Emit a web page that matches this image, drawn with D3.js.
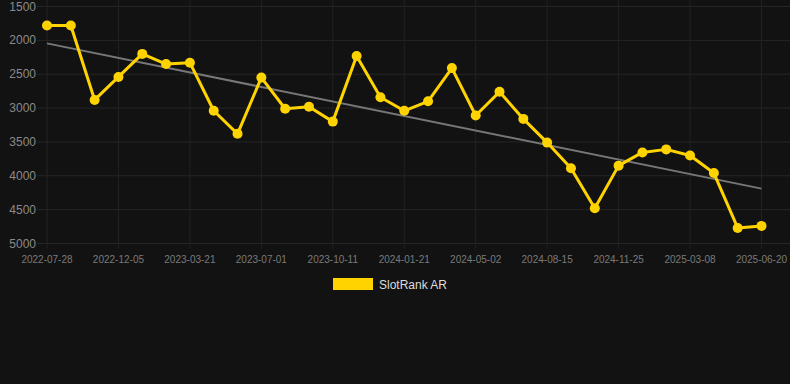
<!DOCTYPE html>
<html>
<head>
<meta charset="utf-8">
<script src="https://cdn.jsdelivr.net/npm/d3@7"></script>
<style>
  html, body { margin: 0; padding: 0; background: #121212; }
  svg { display: block; font-family: Arial, "Liberation Sans", sans-serif; }
</style>
</head>
<body>
<div class="main"></div>
<script>
// SlotRank AR, one point per period (labels shown on every 3rd point)
const tickLabels = ["2022-07-28", "2022-12-05", "2023-03-21", "2023-07-01", "2023-10-11",
  "2024-01-21", "2024-05-02", "2024-08-15", "2024-11-25", "2025-03-08", "2025-06-20"];
const rankValues = [1780, 1780, 2880, 2540, 2200, 2350, 2330, 3040, 3380, 2550,
  3010, 2980, 3200, 2230, 2840, 3040, 2900, 2410, 3110, 2760,
  3160, 3510, 3890, 4480, 3850, 3655, 3610, 3700, 3960, 4770, 4740];
const yTicks = [1500, 2000, 2500, 3000, 3500, 4000, 4500, 5000];
const seriesName = "SlotRank AR";

let width = 790,
    height = 384;

let svg = d3.select("div.main").append("svg")
  .attr("width", width)
  .attr("height", height);

svg.append("rect")
  .attr("width", width)
  .attr("height", height)
  .attr("fill", "#121212");

let idx = d3.range(rankValues.length);

let x = d3.scalePoint()
  .domain(idx)
  .range([47, 761.5]);

// rank axis is reversed: best rank on top
let y = d3.scaleLinear()
  .domain([1500, 5000])
  .range([6.5, 243.5]);

let left = 37, right = width;

// horizontal grid + y labels
svg.append("g")
  .selectAll("line")
  .data(yTicks)
  .enter().append("line")
    .attr("x1", left)
    .attr("x2", right)
    .attr("y1", d => y(d))
    .attr("y2", d => y(d))
    .attr("stroke", "#262626")
    .attr("stroke-width", 1);

svg.append("g")
  .selectAll("text")
  .data(yTicks)
  .enter().append("text")
    .attr("x", left - 1)
    .attr("y", d => y(d) + 4)
    .attr("text-anchor", "end")
    .attr("fill", "#8a8a8a")
    .attr("font-size", 12)
    .text(d => d);

// vertical grid on labelled points
let tickIdx = tickLabels.map((t, i) => i * 3);

svg.append("g")
  .selectAll("line")
  .data(tickIdx)
  .enter().append("line")
    .attr("x1", d => x(d))
    .attr("x2", d => x(d))
    .attr("y1", 0)
    .attr("y2", y(5000) + 5)
    .attr("stroke", "#222222")
    .attr("stroke-width", 1);

svg.append("g")
  .selectAll("text")
  .data(tickIdx)
  .enter().append("text")
    .attr("x", d => x(d))
    .attr("y", 263)
    .attr("text-anchor", "middle")
    .attr("fill", "#7a7a7a")
    .attr("font-size", 10)
    .text((d, i) => tickLabels[i]);

// least squares trend line
let mx = d3.mean(idx), my = d3.mean(rankValues);
let slope = d3.sum(idx, i => (i - mx) * (rankValues[i] - my)) / d3.sum(idx, i => (i - mx) * (i - mx));
let icpt = my - slope * mx;
let first = idx[0], last = idx[idx.length - 1];

svg.append("line")
  .attr("x1", x(first))
  .attr("y1", y(icpt + slope * first))
  .attr("x2", x(last))
  .attr("y2", y(icpt + slope * last))
  .attr("stroke", "#777777")
  .attr("stroke-width", 2);

// series
let line = d3.line()
  .x((d, i) => x(i))
  .y(d => y(d));

svg.append("path")
  .datum(rankValues)
  .attr("d", line)
  .attr("fill", "none")
  .attr("stroke", "#FFD300")
  .attr("stroke-width", 3)
  .attr("stroke-linejoin", "round");

svg.append("g")
  .selectAll("circle")
  .data(rankValues)
  .enter().append("circle")
    .attr("cx", (d, i) => x(i))
    .attr("cy", d => y(d))
    .attr("r", 5)
    .attr("fill", "#FFD300");

// legend
svg.append("rect")
  .attr("x", 333)
  .attr("y", 278)
  .attr("width", 40)
  .attr("height", 12)
  .attr("fill", "#FFD300");

svg.append("text")
  .attr("x", 379)
  .attr("y", 288.5)
  .attr("fill", "#dddddd")
  .attr("font-size", 12)
  .text(seriesName);
</script>
</body>
</html>
